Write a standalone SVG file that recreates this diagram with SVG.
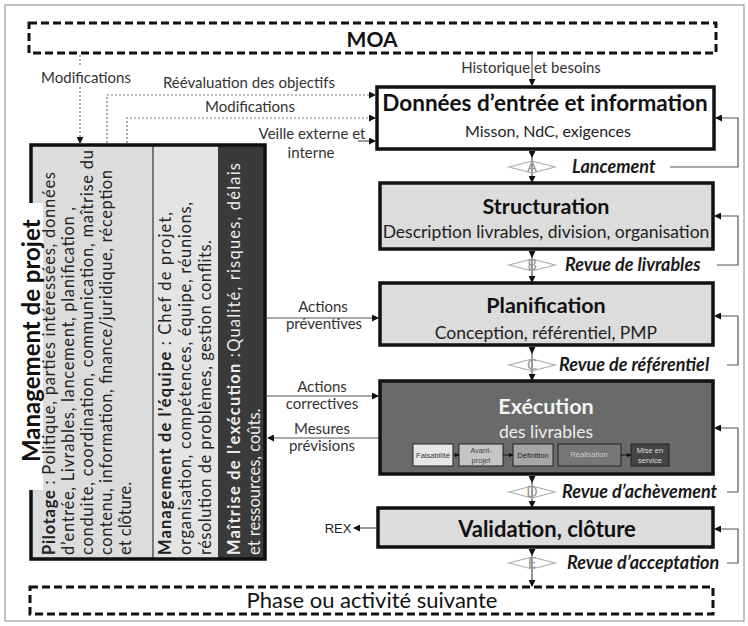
<svg xmlns="http://www.w3.org/2000/svg" width="748" height="626" viewBox="0 0 748 626">
<defs>
<marker id="ah" markerWidth="7" markerHeight="7" refX="6" refY="3.5" orient="auto" markerUnits="userSpaceOnUse"><path d="M0,0 L7,3.5 L0,7 z" fill="#111"/></marker>
<marker id="as" markerWidth="7" markerHeight="7" refX="0" refY="3.5" orient="auto" markerUnits="userSpaceOnUse"><path d="M0,0 L7,3.5 L0,7 z" fill="#111"/></marker>
<marker id="sm" markerWidth="5" markerHeight="5" refX="4.5" refY="2.5" orient="auto" markerUnits="userSpaceOnUse"><path d="M0,0 L5,2.5 L0,5 z" fill="#111"/></marker>
</defs>
<style>
text{font-family:Lato,"Liberation Sans",sans-serif;}
.lbl{font-size:15px;fill:#333;}
.ttl{font-size:21.5px;font-weight:bold;fill:#111;text-anchor:middle;}
.sub{font-size:17px;fill:#222;text-anchor:middle;}
.rev{font-size:18px;font-weight:bold;font-style:italic;fill:#1a1a1a;}
.box{stroke:#111;stroke-width:3.5;}
.gray{fill:#dcdcdc;}
.dash{fill:#fff;stroke:#111;stroke-width:3;stroke-dasharray:8,4;}
.con{fill:none;stroke:#555;stroke-width:1.2;}
.dot{fill:none;stroke:#777;stroke-width:1.2;stroke-dasharray:2,2;}
.dia{fill:none;stroke:#aaa;stroke-width:1.2;}
.let{font-size:15px;fill:#999;text-anchor:middle;}
.par{font-size:16.5px;fill:#222;}
.parw{font-size:16.5px;fill:#eee;}
.sb{stroke:#222;stroke-width:1;}
.st{font-family:"Liberation Sans",Arial,sans-serif;font-size:7.5px;text-anchor:middle;}
</style>
<rect x="5" y="5" width="739" height="616" fill="#fff" stroke="#888" stroke-width="1"/>

<g id="connecteurs">
<line class="con" x1="532" y1="151" x2="532" y2="182" marker-start="url(#as)" marker-end="url(#ah)"/>
<line class="con" x1="532" y1="251" x2="532" y2="282" marker-start="url(#as)" marker-end="url(#ah)"/>
<line class="con" x1="532" y1="347" x2="532" y2="380" marker-start="url(#as)" marker-end="url(#ah)"/>
<line class="con" x1="532" y1="476" x2="532" y2="507" marker-start="url(#as)" marker-end="url(#ah)"/>
<line class="con" x1="532" y1="549" x2="532" y2="586" marker-start="url(#as)" marker-end="url(#ah)"/>

<path class="con" d="M670,167 H738 V118 H716" marker-end="url(#ah)"/>
<path class="con" d="M717,265 H738 V216 H715" marker-end="url(#ah)"/>
<path class="con" d="M727,365 H738 V316 H715" marker-end="url(#ah)"/>
<path class="con" d="M727,492 H738 V428 H715" marker-end="url(#ah)"/>
<path class="con" d="M727,563 H738 V529 H715" marker-end="url(#ah)"/>

<line class="con" x1="532" y1="55" x2="532" y2="85" marker-end="url(#ah)"/>
<text class="lbl" x="531" y="73" text-anchor="middle">Historique et besoins</text>

<line class="dot" x1="80" y1="55" x2="80" y2="67"/>
<line class="dot" x1="80" y1="87" x2="80" y2="143" marker-end="url(#ah)"/>
<text class="lbl" x="86" y="83" text-anchor="middle">Modifications</text>

<path class="dot" d="M107,143 V95 H375" marker-end="url(#ah)"/>
<text class="lbl" x="249" y="88" text-anchor="middle">Réévaluation des objectifs</text>
<path class="dot" d="M127,143 V118 H375" marker-end="url(#ah)"/>
<text class="lbl" x="250" y="112" text-anchor="middle">Modifications</text>

<line class="con" x1="358" y1="141" x2="375" y2="141" marker-end="url(#ah)"/>
<text class="lbl" x="312" y="139" text-anchor="middle">Veille externe et</text>
<text class="lbl" x="311" y="158" text-anchor="middle">interne</text>

<line class="con" x1="267" y1="318" x2="378" y2="318" marker-end="url(#ah)"/>
<text class="lbl" x="323" y="312" text-anchor="middle">Actions</text>
<text class="lbl" x="324" y="329" text-anchor="middle">préventives</text>

<line class="con" x1="267" y1="396" x2="378" y2="396" marker-end="url(#ah)"/>
<text class="lbl" x="322" y="392" text-anchor="middle">Actions</text>
<text class="lbl" x="322" y="409" text-anchor="middle">correctives</text>

<line class="con" x1="378" y1="438" x2="268" y2="438" marker-end="url(#ah)"/>
<text class="lbl" x="322" y="434" text-anchor="middle">Mesures</text>
<text class="lbl" x="322" y="451" text-anchor="middle">prévisions</text>

<line class="con" x1="377" y1="528" x2="354" y2="528" marker-end="url(#ah)"/>
<text x="338" y="533" style="font-family:'Liberation Sans',sans-serif;font-size:13px;fill:#222;text-anchor:middle">REX</text>
</g>

<g id="moa">
<rect class="dash" x="29" y="23" width="687" height="30" style="fill:none"/>
<text x="372" y="47" style="font-size:21px;font-weight:bold;text-anchor:middle;fill:#111">MOA</text>
</g>

<g id="phase-suivante">
<rect class="dash" x="30" y="587" width="683" height="27" style="fill:none"/>
<text x="372" y="608" style="font-size:22px;text-anchor:middle;fill:#111">Phase ou activité suivante</text>
</g>

<g id="management">
<rect x="31" y="145" width="122" height="414" fill="#dcdcdc"/>
<rect x="153" y="145" width="65" height="414" fill="#e4e4e4"/>
<rect x="218" y="145" width="47" height="414" fill="#3a3a3a"/>
<line x1="153" y1="145" x2="153" y2="559" stroke="#111" stroke-width="1"/>
<rect x="31" y="145" width="234" height="414" fill="none" stroke="#111" stroke-width="3.5"/>
<rect x="8" y="203" width="35" height="287" fill="#fff"/>
<text transform="translate(40,462) rotate(-90)" style="font-size:24px;font-weight:bold;fill:#111">Management de projet</text>
<text class="par" transform="translate(55,555) rotate(-90)" textLength="383"><tspan font-weight="bold">Pilotage</tspan> : Politique,  parties intéressées, données</text>
<text class="par" transform="translate(74,555) rotate(-90)" textLength="348">d’entrée, Livrables, lancement, planification ,</text>
<text class="par" transform="translate(93,555) rotate(-90)" textLength="405">conduite, coordination, communication, maîtrise du</text>
<text class="par" transform="translate(112,555) rotate(-90)" textLength="385">contenu, information, finance/juridique, réception</text>
<text class="par" transform="translate(131,555) rotate(-90)">et clôture.</text>
<text class="par" transform="translate(171,555) rotate(-90)" textLength="343"><tspan font-weight="bold">Management de l’équipe</tspan> : Chef de projet,</text>
<text class="par" transform="translate(191,555) rotate(-90)" textLength="353">organisation, compétences, équipe,  réunions,</text>
<text class="par" transform="translate(211,555) rotate(-90)" textLength="315">résolution de problèmes, gestion conflits.</text>
<text class="parw" transform="translate(240,555) rotate(-90)" textLength="392"><tspan font-weight="bold">Maîtrise de l’exécution</tspan> :Qualité,  risques, délais</text>
<text class="parw" transform="translate(260,555) rotate(-90)">et ressources, coûts.</text>
</g>

<g id="donnees">
<rect class="box" x="377" y="87" width="337" height="62" fill="#fff"/>
<text class="ttl" x="545" y="111" style="font-size:22.5px">Données d’entrée et information</text>
<text class="sub" x="548" y="137" style="font-size:16px">Misson, NdC, exigences</text>
</g>

<g id="structuration">
<rect class="box gray" x="380" y="183" width="333" height="66"/>
<text class="ttl" x="546" y="214">Structuration</text>
<text class="sub" x="546" y="238" style="font-size:17.5px">Description livrables, division, organisation</text>
</g>

<g id="planification">
<rect class="box gray" x="380" y="283" width="333" height="62"/>
<text class="ttl" x="546" y="313">Planification</text>
<text class="sub" x="546" y="339" style="font-size:17.5px">Conception, référentiel, PMP</text>
</g>

<g id="execution">
<rect class="box" x="380" y="381" width="333" height="93" fill="#6a6a6a"/>
<text class="ttl" x="546" y="414" style="fill:#f4f4f4">Exécution</text>
<text class="sub" x="546" y="438" style="fill:#eee;font-size:17.5px">des livrables</text>
<g id="sous-etapes">
<rect class="sb" x="413" y="444" width="40" height="22" fill="#e6e6e6"/>
<text class="st" x="433" y="458" fill="#333">Faisabilité</text>
<rect class="sb" x="459" y="444" width="44" height="22" fill="#c6c6c6"/>
<text class="st" x="481" y="453" fill="#444">Avant-</text>
<text class="st" x="481" y="463" fill="#444">projet</text>
<rect class="sb" x="513" y="444" width="40" height="22" fill="#a6a6a6"/>
<text class="st" x="533" y="458" fill="#222">Définition</text>
<rect class="sb" x="558" y="444" width="63" height="22" fill="#777"/>
<text class="st" x="589" y="457" fill="#ccc">Réalisation</text>
<rect class="sb" x="631" y="444" width="38" height="22" fill="#454545"/>
<text class="st" x="650" y="453" fill="#ddd">Mise en</text>
<text class="st" x="650" y="463" fill="#ddd">service</text>
<line x1="453" y1="455" x2="459" y2="455" stroke="#111" marker-end="url(#sm)"/>
<line x1="503" y1="455" x2="513" y2="455" stroke="#111" marker-end="url(#sm)"/>
<line x1="621" y1="455" x2="631" y2="455" stroke="#111" marker-end="url(#sm)"/>
</g>
</g>

<g id="validation">
<rect class="box gray" x="378" y="508" width="335" height="39"/>
<text class="ttl" x="547" y="537" style="font-size:22px">Validation, clôture</text>
</g>

<g id="jalons">
<polygon class="dia" points="509,167 532,161 555,167 532,173"/>
<text class="let" x="532" y="172">A</text>
<polygon class="dia" points="509,265 532,259 555,265 532,271"/>
<text class="let" x="532" y="270">B</text>
<polygon class="dia" points="509,365 532,359 555,365 532,371"/>
<text class="let" x="532" y="370">C</text>
<polygon class="dia" points="509,492 532,486 555,492 532,498"/>
<text class="let" x="532" y="497">D</text>
<polygon class="dia" points="509,563 532,557 555,563 532,569"/>
<text class="let" x="532" y="568">E</text>
<text class="rev" x="572" y="173">Lancement</text>
<text class="rev" x="565" y="271">Revue de livrables</text>
<text class="rev" x="559" y="371">Revue de référentiel</text>
<text class="rev" x="562" y="498">Revue d’achèvement</text>
<text class="rev" x="567" y="569">Revue d’acceptation</text>
</g>
</svg>
